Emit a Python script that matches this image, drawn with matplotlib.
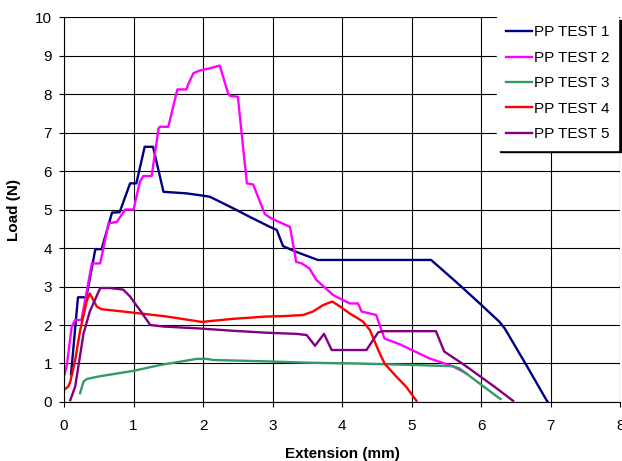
import matplotlib.pyplot as plt

# Datos (extension mm, carga N)
x1 = [0.10, 0.20, 0.32, 0.45, 0.54, 0.69, 0.80, 0.95, 1.04, 1.16, 1.28, 1.43, 1.76, 2.00, 2.10,
      2.48, 2.67, 2.96, 3.06, 3.15, 3.34, 3.65, 5.28, 5.64, 5.98, 6.26, 6.34, 6.65, 6.94, 6.96]
y1 = [0.72, 2.72, 2.72, 3.97, 3.97, 4.92, 4.93, 5.68, 5.68, 6.63, 6.63, 5.46, 5.42, 5.36, 5.33,
      4.99, 4.81, 4.55, 4.47, 4.05, 3.90, 3.69, 3.69, 3.12, 2.56, 2.09, 1.91, 0.96, 0.05, 0.0]

x2 = [0.01, 0.04, 0.11, 0.16, 0.25, 0.40, 0.52, 0.64, 0.76, 0.88, 1.00, 1.09, 1.14, 1.26, 1.36,
      1.38, 1.50, 1.63, 1.76, 1.79, 1.86, 1.95, 2.10, 2.24, 2.36, 2.39, 2.50, 2.63, 2.72, 2.89,
      2.98, 3.25, 3.34, 3.42, 3.53, 3.63, 3.87, 4.11, 4.23, 4.28, 4.49, 4.61, 4.83, 5.26, 5.59,
      5.74, 5.79]
y2 = [0.73, 0.96, 1.96, 2.13, 2.13, 3.60, 3.60, 4.64, 4.68, 5.00, 5.00, 5.72, 5.87, 5.87, 7.11,
      7.15, 7.15, 8.12, 8.12, 8.27, 8.54, 8.61, 8.67, 8.74, 8.02, 7.95, 7.93, 5.68, 5.65, 4.88,
      4.77, 4.55, 3.64, 3.60, 3.47, 3.17, 2.78, 2.56, 2.56, 2.35, 2.26, 1.65, 1.50, 1.13, 0.93,
      0.79, 0.74]

x3 = [0.23, 0.28, 0.33, 0.52, 1.00, 1.38, 1.91, 2.05, 2.15, 2.82, 3.53, 4.20, 5.07, 5.59, 5.69,
      6.26, 6.28]
y3 = [0.23, 0.53, 0.60, 0.67, 0.81, 0.96, 1.12, 1.12, 1.09, 1.06, 1.02, 1.00, 0.96, 0.93, 0.87,
      0.10, 0.08]

x4 = [0.01, 0.06, 0.09, 0.16, 0.23, 0.33, 0.37, 0.42, 0.47, 0.54, 1.00, 1.48, 1.98, 2.43, 2.91,
      3.15, 3.44, 3.58, 3.73, 3.86, 3.97, 4.11, 4.30, 4.40, 4.52, 4.61, 4.78, 4.92, 5.07]
y4 = [0.33, 0.40, 0.53, 1.09, 1.85, 2.65, 2.82, 2.65, 2.48, 2.41, 2.32, 2.22, 2.08, 2.16, 2.22,
      2.23, 2.26, 2.35, 2.52, 2.61, 2.48, 2.30, 2.09, 1.87, 1.35, 1.00, 0.66, 0.40, 0.03]

x5 = [0.09, 0.16, 0.28, 0.37, 0.52, 0.66, 0.85, 0.95, 1.09, 1.24, 1.43, 1.95, 2.43, 2.91, 3.34,
      3.49, 3.61, 3.74, 3.85, 4.35, 4.52, 4.59, 5.35, 5.47, 5.76, 6.22, 6.46]
y5 = [0.05, 0.40, 1.78, 2.35, 2.96, 2.96, 2.92, 2.74, 2.39, 2.00, 1.96, 1.91, 1.85, 1.80, 1.77,
      1.74, 1.46, 1.77, 1.35, 1.35, 1.81, 1.84, 1.84, 1.31, 0.96, 0.36, 0.03]

series = [
    (x1, y1, "PP TEST 1", "#000080"),
    (x2, y2, "PP TEST 2", "#FF00FF"),
    (x3, y3, "PP TEST 3", "#339966"),
    (x4, y4, "PP TEST 4", "#FF0000"),
    (x5, y5, "PP TEST 5", "#800080"),
]

plt.rcParams['font.family'] = ['Liberation Sans', 'DejaVu Sans']

fig = plt.figure(figsize=(6.22, 4.61), dpi=100)
ax = fig.add_axes([0.103, 0.128, 0.894, 0.835])

for xs, ys, lab, col in series:
    ax.plot(xs, ys, color=col, lw=1.7, label=lab)

ax.set_xlim(0, 8)
ax.set_ylim(0, 10)
ax.set_xticks(range(0, 9))
ax.set_yticks(range(0, 11))
ax.grid(True, color="black", lw=0.8)
ax.set_axisbelow(True)
ax.tick_params(labelsize=11, length=3.6, width=0.8, color="black")
ax.tick_params(axis="x", pad=8.5)
ax.tick_params(axis="y", pad=5)
for s in ["top", "right"]:
    ax.spines[s].set_visible(False)
for s in ["left", "bottom"]:
    ax.spines[s].set_color("black")

ax.set_xlabel("Extension (mm)", fontsize=11, fontweight="bold", labelpad=10)
ax.set_ylabel("Load (N)", fontsize=11, fontweight="bold", labelpad=10)

leg = ax.legend(loc="upper right", bbox_to_anchor=(618 / 622, 1 - 17 / 461),
                bbox_transform=fig.transFigure, fontsize=11,
                fancybox=False, framealpha=1, edgecolor="white",
                shadow={"color": "black", "alpha": 1}, handlelength=1.7,
                handletextpad=0.15, labelspacing=0.75, borderpad=0.55,
                borderaxespad=0)

plt.savefig("out.png", dpi=100)
